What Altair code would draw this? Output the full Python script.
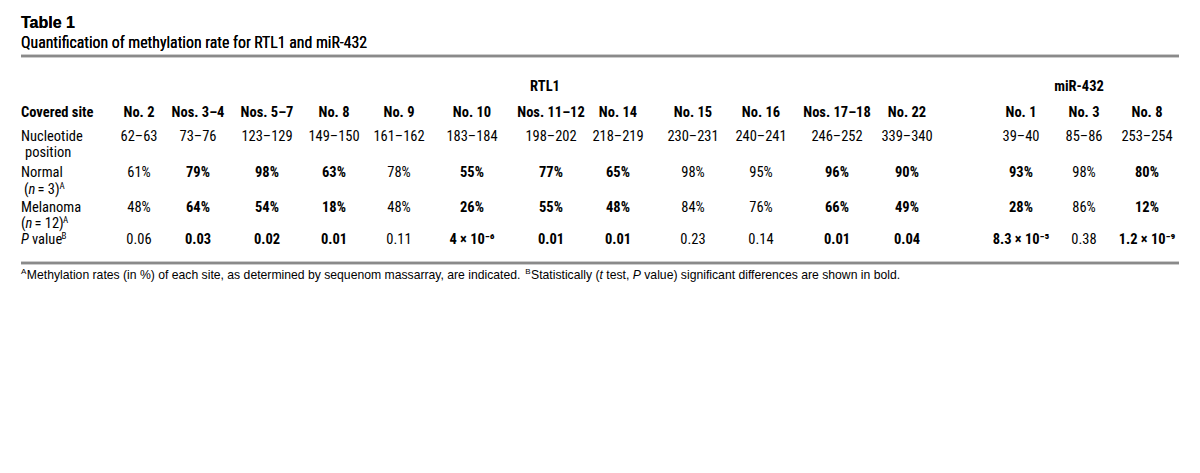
import altair as alt
import pandas as pd

# ---------------- data ----------------
genes = ["RTL1"] * 12 + ["miR-432"] * 3
sites = ["No. 2", "Nos. 3–4", "Nos. 5–7", "No. 8", "No. 9", "No. 10", "Nos. 11–12",
         "No. 14", "No. 15", "No. 16", "Nos. 17–18", "No. 22", "No. 1", "No. 3", "No. 8"]
positions = ["62–63", "73–76", "123–129", "149–150", "161–162", "183–184", "198–202",
             "218–219", "230–231", "240–241", "246–252", "339–340", "39–40", "85–86", "253–254"]
normal = [61, 79, 98, 63, 78, 55, 77, 65, 98, 95, 96, 90, 93, 98, 80]
melanoma = [48, 64, 54, 18, 48, 26, 55, 48, 84, 76, 66, 49, 28, 86, 12]
pvalues = ["0.06", "0.03", "0.02", "0.01", "0.11", "4 × 10⁻⁶", "0.01", "0.01", "0.23",
           "0.14", "0.01", "0.04", "8.3 × 10⁻⁵", "0.38", "1.2 × 10⁻⁹"]
significant = [False, True, True, True, False, True, True, True, False, False, True, True,
               True, False, True]
group_names = ["RTL1", "miR-432"]

title_text = "Table 1"
subtitle_text = "Quantification of methylation rate for RTL1 and miR-432"
# footnote pieces: (text, style)  style: reg / ital / sup
footnote_pieces = [
    ("A", "sup"),
    ("Methylation rates (in %) of each site, as determined by sequenom massarray, are indicated. ", "reg"),
    ("B", "sup"),
    ("Statistically (", "reg"),
    ("t", "ital"),
    (" test, ", "reg"),
    ("P", "ital"),
    (" value) significant differences are shown in bold.", "reg"),
]

# ---------------- layout (page pixels minus 8px margin) ----------------
W, H = 1184, 457
COL_X = [131, 190, 259, 326, 391, 464, 543, 610, 685, 753, 829, 899, 1013, 1076, 1139]
GROUP_X = {"RTL1": 537, "miR-432": 1071}
Y_GROUP, Y_SITE, Y_POS, Y_NORM, Y_MEL, Y_P = 79, 105, 129, 165, 200, 232
Y_FOOT = 267
LEFT = 13

NARROW = "Roboto Condensed, DejaVu Sans Condensed, Liberation Sans Narrow, sans-serif"
REG = "Liberation Sans, Arial, sans-serif"
FS_BOLD, FS_REG = 14, 14.5
FS_FOOT, FS_FOOT_SUP = 12.2, 8

# Liberation Sans (Arial-metric) advance widths, per 1000 em, used to place footnote pieces
ARIAL_W = {" ": 278, "(": 333, ")": 333, "%": 889, ",": 278, ".": 278, "a": 556, "b": 556,
           "c": 500, "d": 556, "e": 556, "f": 278, "g": 556, "h": 556, "i": 222, "j": 222,
           "k": 500, "l": 222, "m": 833, "n": 556, "o": 556, "p": 556, "q": 556, "r": 333,
           "s": 500, "t": 278, "u": 556, "v": 500, "w": 722, "x": 500, "y": 500, "z": 500,
           "M": 833, "S": 667, "P": 667, "A": 667, "B": 667}


def text_width(s, fs):
    return sum(ARIAL_W.get(c, 556) for c in s) * fs / 1000.0


# ---------------- tables ----------------
cells = []
for i in range(len(sites)):
    cells.append(dict(x=COL_X[i], y=Y_SITE, text=sites[i], bold=True))
    cells.append(dict(x=COL_X[i], y=Y_POS, text=positions[i], bold=False))
    cells.append(dict(x=COL_X[i], y=Y_NORM, text=f"{normal[i]}%", bold=significant[i]))
    cells.append(dict(x=COL_X[i], y=Y_MEL, text=f"{melanoma[i]}%", bold=significant[i]))
    cells.append(dict(x=COL_X[i], y=Y_P, text=pvalues[i], bold=significant[i]))
cells_df = pd.DataFrame(cells)

groups_df = pd.DataFrame({"x": [GROUP_X[g] for g in group_names], "y": [Y_GROUP] * 2,
                          "text": group_names})

labels = [
    dict(x=LEFT, y=Y_SITE, text="Covered site", style="bold"),
    dict(x=LEFT, y=Y_POS, text="Nucleotide", style="reg"),
    dict(x=LEFT + 4, y=Y_POS + 16, text="position", style="reg"),
    dict(x=LEFT, y=Y_NORM, text="Normal", style="reg"),
    dict(x=LEFT + 3, y=Y_NORM + 17, text="(", style="reg"),
    dict(x=LEFT + 7.5, y=Y_NORM + 17, text="n", style="ital"),
    dict(x=LEFT + 16.5, y=Y_NORM + 17, text="= 3)", style="reg"),
    dict(x=LEFT + 38.5, y=Y_NORM + 13, text="A", style="sup"),
    dict(x=LEFT, y=Y_MEL, text="Melanoma", style="reg"),
    dict(x=LEFT, y=Y_MEL + 16, text="(", style="reg"),
    dict(x=LEFT + 4.5, y=Y_MEL + 16, text="n", style="ital"),
    dict(x=LEFT + 13.5, y=Y_MEL + 16, text="= 12)", style="reg"),
    dict(x=LEFT + 42, y=Y_MEL + 12, text="A", style="sup"),
    dict(x=LEFT, y=Y_P, text="P", style="ital"),
    dict(x=LEFT + 11, y=Y_P, text="value", style="reg"),
    dict(x=LEFT + 40.5, y=Y_P - 4, text="B", style="sup"),
]
labels_df = pd.DataFrame(labels)

# footnote pieces placed one after another
foot_rows = []
cx = LEFT
for txt, style in footnote_pieces:
    fs = FS_FOOT_SUP if style == "sup" else FS_FOOT
    lead = len(txt) - len(txt.lstrip(" "))
    foot_rows.append(dict(x=cx + text_width(" " * lead, fs),
                          y=Y_FOOT - 3 if style == "sup" else Y_FOOT,
                          text=txt.strip(" "), style=style))
    cx += text_width(txt, fs) + (0.5 if style == "sup" else 0)
foot_df = pd.DataFrame(foot_rows)

xs = alt.X("x:Q", scale=alt.Scale(domain=[0, W], nice=False, zero=False), axis=None)
ys = alt.Y("y:Q", scale=alt.Scale(domain=[H, 0], nice=False, zero=False), axis=None)

base_cells = alt.Chart(cells_df).encode(x=xs, y=ys, text="text:N")
cells_bold = base_cells.transform_filter("datum.bold").mark_text(
    font=NARROW, fontSize=FS_BOLD + 0.5, fontWeight="bold", align="center", baseline="middle",
    color="black")
cells_reg = base_cells.transform_filter("!datum.bold").mark_text(
    font=NARROW, fontSize=FS_REG, fontWeight="normal", align="center", baseline="middle",
    color="black")

group_layer = alt.Chart(groups_df).mark_text(
    font=NARROW, fontSize=FS_BOLD + 0.5, fontWeight="bold", align="center", baseline="middle",
    color="black"
).encode(x=xs, y=ys, text="text:N")

base_lab = alt.Chart(labels_df).encode(x=xs, y=ys, text="text:N")
lab_bold = base_lab.transform_filter("datum.style == 'bold'").mark_text(
    font=NARROW, fontSize=FS_BOLD + 0.5, fontWeight="bold", align="left", baseline="middle",
    color="black")
lab_reg = base_lab.transform_filter("datum.style == 'reg'").mark_text(
    font=NARROW, fontSize=FS_REG, align="left", baseline="middle", color="black")
lab_ital = base_lab.transform_filter("datum.style == 'ital'").mark_text(
    font=NARROW, fontSize=FS_REG, fontStyle="italic", align="left", baseline="middle",
    color="black")
lab_sup = base_lab.transform_filter("datum.style == 'sup'").mark_text(
    font=NARROW, fontSize=9, align="left", baseline="middle", color="black")

base_foot = alt.Chart(foot_df).encode(x=xs, y=ys, text="text:N")
foot_reg = base_foot.transform_filter("datum.style == 'reg'").mark_text(
    font=REG, fontSize=FS_FOOT, align="left", baseline="middle", color="black")
foot_ital = base_foot.transform_filter("datum.style == 'ital'").mark_text(
    font=REG, fontSize=FS_FOOT, fontStyle="italic", align="left", baseline="middle",
    color="black")
foot_sup = base_foot.transform_filter("datum.style == 'sup'").mark_text(
    font=REG, fontSize=FS_FOOT_SUP, align="left", baseline="middle", color="black")

title_layer = alt.Chart(groups_df).mark_text(
    font=REG, fontSize=16, fontWeight="bold", align="left", baseline="middle", color="black"
).encode(x=alt.value(LEFT), y=alt.value(15), text=alt.value(title_text))
subtitle_layer = alt.Chart(groups_df).mark_text(
    font=NARROW, fontSize=15.8, align="left", baseline="middle", color="black"
).encode(x=alt.value(LEFT), y=alt.value(35), text=alt.value(subtitle_text))

rule_top = alt.Chart(groups_df).mark_rule(color="#8a8a8a", strokeWidth=2.5).encode(
    x=alt.value(LEFT), x2=alt.value(1171), y=alt.value(48))
rule_bot = alt.Chart(groups_df).mark_rule(color="#8a8a8a", strokeWidth=2.5).encode(
    x=alt.value(LEFT), x2=alt.value(1171), y=alt.value(255))

chart = alt.layer(
    rule_top, rule_bot, title_layer, subtitle_layer, group_layer,
    cells_bold, cells_reg, lab_bold, lab_reg, lab_ital, lab_sup,
    foot_reg, foot_ital, foot_sup
).properties(
    width=W, height=H, autosize=alt.AutoSizeParams(type="none"), padding=0
).configure_view(stroke=None)

chart.save("out.html", embed_options={"renderer": "svg", "actions": False})
